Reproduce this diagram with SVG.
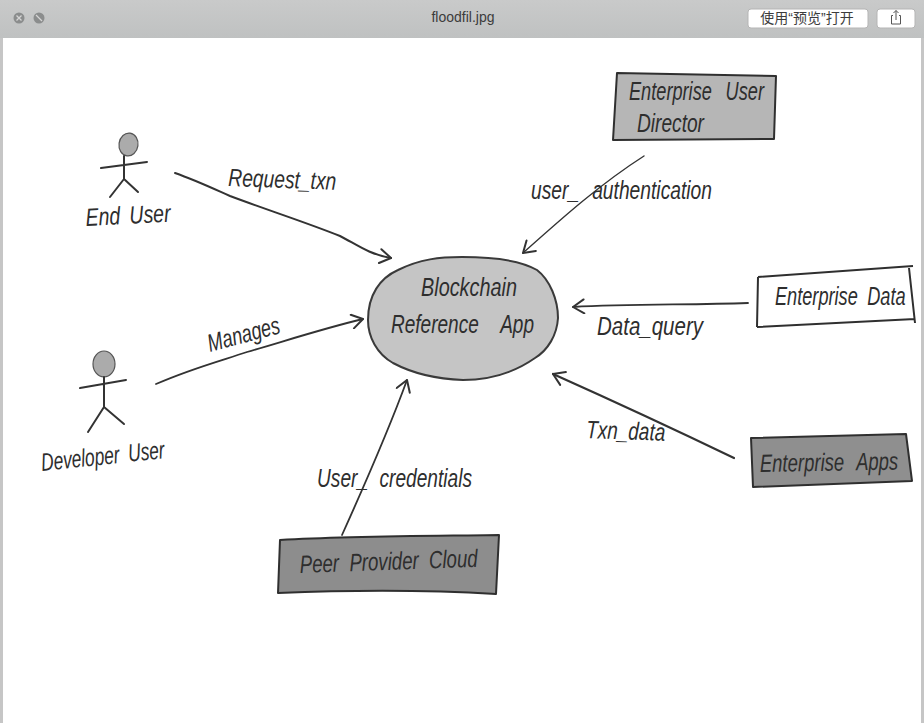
<svg xmlns="http://www.w3.org/2000/svg" width="924" height="723" viewBox="0 0 924 723">
<style>
.hand{font-family:"Liberation Sans",Arial,sans-serif;font-style:italic;font-size:25px;fill:#2e2e2e}
.line{fill:none;stroke:#333;stroke-linecap:round;stroke-linejoin:round}
.box{stroke:#2f2f2f;stroke-width:2;stroke-linejoin:round}
.fig{fill:none;stroke:#333;stroke-width:2;stroke-linecap:round}
.head{fill:#ababab;stroke:#555;stroke-width:1.2}
.btn{fill:#fff;stroke:#b5b5b5;stroke-width:1}
.ui{font-family:"Liberation Sans","Noto Sans CJK SC",sans-serif;font-size:14px;fill:#3c3c3c}
</style>
<defs>
<linearGradient id="bar" x1="0" y1="0" x2="0" y2="1"><stop offset="0" stop-color="#c9caca"/><stop offset="1" stop-color="#bfc1c1"/></linearGradient>
<marker id="open" markerUnits="userSpaceOnUse" markerWidth="16" markerHeight="16" refX="13" refY="8" orient="auto" viewBox="0 0 16 16"><path d="M2 1 13 8 2 15" fill="none" stroke="#333" stroke-width="2" stroke-linecap="round" stroke-linejoin="round"/></marker>
</defs>
<rect id="page" width="924" height="723" fill="#fff"/>
<g id="window-chrome">
<rect x="0" y="0" width="924" height="38" fill="url(#bar)"/>
<rect x="0" y="38" width="3" height="685" fill="#c6c6c6"/>
<rect x="921" y="38" width="3" height="685" fill="#c6c6c6"/>
<circle cx="19" cy="18" r="5.5" fill="#8b8d8d"/><path d="M16.5 15.5 21.500 20.500M21.500 15.500 16.500 20.500" stroke="#d5d5d5" stroke-width="1.300"/>
<circle cx="39" cy="18" r="5.500" fill="#8b8d8d"/><path d="M36 15 42 21" stroke="#d5d5d5" stroke-width="1.300"/>
<text class="ui" x="463" y="22" text-anchor="middle">floodfil.jpg</text>
<rect class="btn" x="748" y="9" width="120" height="19" rx="3"/>
<text class="ui" x="807" y="23" text-anchor="middle">使用“预览”打开</text>
<rect class="btn" x="877" y="9" width="38" height="19" rx="3"/>
<path d="M893 15.500H891.500V24H900.500V15.500H899M896 20V10.500M893.500 13 896 10.500 898.500 13" fill="none" stroke="#555" stroke-width="1"/>
</g>
<g id="connectors">
<path class="line" stroke-width="2" marker-end="url(#open)" d="M175 173C195 180 212 188 230 196 270 211 305 222 340 236 356 244 368 254 391 258"/>
<path class="line" stroke-width="1.800" marker-end="url(#open)" d="M156 384C190 369 220 361 247 352 285 341 325 328 363 319"/>
<path class="line" stroke-width="1.400" marker-end="url(#open)" d="M644 156C600 184 560 220 523 253"/>
<path class="line" stroke-width="1.800" marker-end="url(#open)" d="M748 303C690 305 630 304 573 307"/>
<path class="line" stroke-width="2.200" marker-end="url(#open)" d="M734 458C680 432 620 404 553 374"/>
<path class="line" stroke-width="1.800" marker-end="url(#open)" d="M342 535C365 484 388 432 407 380"/>
<text class="hand" x="228" y="186" textLength="108" lengthAdjust="spacingAndGlyphs" transform="rotate(2 228 186)">Request_txn</text>
<text class="hand" x="210" y="352" textLength="74" lengthAdjust="spacingAndGlyphs" transform="rotate(-15 210 352)">Manages</text>
<text class="hand" x="531" y="199" textLength="181" lengthAdjust="spacingAndGlyphs" word-spacing="10">user_ authentication</text>
<text class="hand" x="597" y="335" textLength="106" lengthAdjust="spacingAndGlyphs">Data_query</text>
<text class="hand" x="586" y="438" textLength="79" lengthAdjust="spacingAndGlyphs" transform="rotate(2 586 438)">Txn_data</text>
<text class="hand" x="317" y="487" textLength="155" lengthAdjust="spacingAndGlyphs" word-spacing="8">User_ credentials</text>
</g>
<g id="end-user">
<ellipse class="head" cx="128.500" cy="144.500" rx="9.500" ry="11.500" transform="rotate(8 128.500 144.500)"/>
<path class="fig" d="M101 168 147 162M124 156V179M124 179 110 197M124 179 138 192"/>
<text class="hand" x="86" y="226" textLength="85" lengthAdjust="spacingAndGlyphs" word-spacing="5" transform="rotate(-3 86 226)">End User</text>
</g>
<g id="developer-user">
<ellipse class="head" cx="104" cy="364" rx="11" ry="13"/>
<path class="fig" d="M80 388 126 380M104 377V407M104 407 88 432M104 407 124 424"/>
<text class="hand" x="42" y="471" textLength="124" lengthAdjust="spacingAndGlyphs" word-spacing="6" transform="rotate(-6 42 471)">Developer User</text>
</g>
<g id="blockchain-reference-app">
<path d="M368 320C368 295 380 278 398 270 420 259 440 257 462 257 490 257 520 260 537 270 550 280 558 300 558 318 557 335 548 350 535 358 515 372 490 380 463 380 435 379 410 372 393 363 377 354 368 337 368 320Z" fill="#c5c5c5" stroke="#3a3a3a" stroke-width="2"/>
<text class="hand" x="421" y="296" textLength="96" lengthAdjust="spacingAndGlyphs">Blockchain</text>
<text class="hand" x="391" y="333" textLength="143" lengthAdjust="spacingAndGlyphs" word-spacing="22">Reference App</text>
</g>
<g id="enterprise-user-director">
<path class="box" fill="#b6b6b6" d="M617 73 776 76 774 139 613 140Z"/>
<text class="hand" x="629" y="100" textLength="135" lengthAdjust="spacingAndGlyphs" word-spacing="12">Enterprise User</text>
<text class="hand" x="637" y="132" textLength="67" lengthAdjust="spacingAndGlyphs">Director</text>
</g>
<g id="enterprise-data">
<path class="box" fill="#fff" d="M758 277 913 266M909 268 915 323M757 327 915 319M758 277 757 327"/>
<text class="hand" transform="translate(775 305) scale(.727 1)" word-spacing="6">Enterprise Data</text>
</g>
<g id="enterprise-apps">
<path class="box" fill="#8f8f8f" d="M751 438 906 434 912 481 753 487Z"/>
<text class="hand" transform="translate(760 472) rotate(-1) scale(.74 1)" word-spacing="10">Enterprise Apps</text>
</g>
<g id="peer-provider-cloud">
<path class="box" fill="#8d8d8d" d="M280 540C350 536 430 536 499 535L496 594C430 590 350 590 278 593Z"/>
<text class="hand" x="300" y="573" textLength="178" lengthAdjust="spacingAndGlyphs" word-spacing="7" transform="rotate(-2 300 573)">Peer Provider Cloud</text>
</g>
</svg>
